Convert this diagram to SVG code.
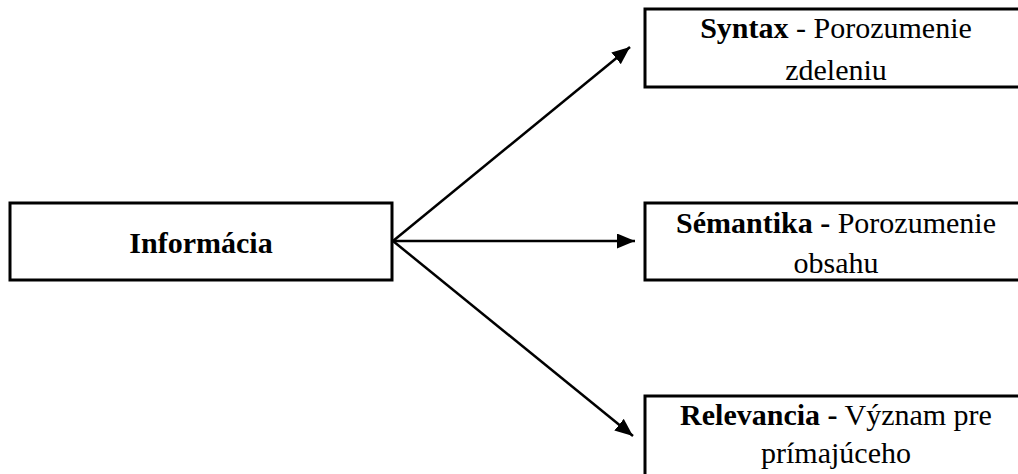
<svg xmlns="http://www.w3.org/2000/svg" width="1018" height="474" viewBox="0 0 1018 474">
<style>
.box{fill:#fff;stroke:#000;stroke-width:3}
.t{font-family:"Liberation Serif","Times New Roman",serif;font-size:30px;fill:#000;text-anchor:middle}
.b{font-weight:bold}
.c{stroke:#000;stroke-width:2.5;fill:none}
</style>
<defs>
<marker id="ah" markerUnits="userSpaceOnUse" viewBox="0 0 18 15" refX="18" refY="7.5" markerWidth="18" markerHeight="15" orient="auto">
<path d="M0,0 L18,7.5 L0,15 Z" fill="#000"/>
</marker>
</defs>
<rect width="1018" height="474" fill="#fff"/>
<g id="connectors">
<line class="c" x1="393" y1="241" x2="630" y2="47" marker-end="url(#ah)"/>
<line class="c" x1="393" y1="241" x2="635" y2="241" marker-end="url(#ah)"/>
<line class="c" x1="393" y1="241" x2="633" y2="436" marker-end="url(#ah)"/>
</g>
<g id="informacia">
<rect class="box" x="10" y="203" width="382" height="77"/>
<text class="t b" x="201" y="253">Informácia</text>
</g>
<g id="syntax">
<rect class="box" x="645" y="9" width="382" height="78"/>
<text class="t" x="836" y="38"><tspan class="b">Syntax</tspan> - Porozumenie</text>
<text class="t" x="836" y="80">zdeleniu</text>
</g>
<g id="semantika">
<rect class="box" x="645" y="203" width="382" height="77"/>
<text class="t" x="836" y="233"><tspan class="b">Sémantika -</tspan> Porozumenie</text>
<text class="t" x="836" y="273">obsahu</text>
</g>
<g id="relevancia">
<rect class="box" x="645" y="396" width="382" height="90"/>
<text class="t" x="836" y="425"><tspan class="b">Relevancia -</tspan> Význam pre</text>
<text class="t" x="836" y="463">prímajúceho</text>
</g>
</svg>
